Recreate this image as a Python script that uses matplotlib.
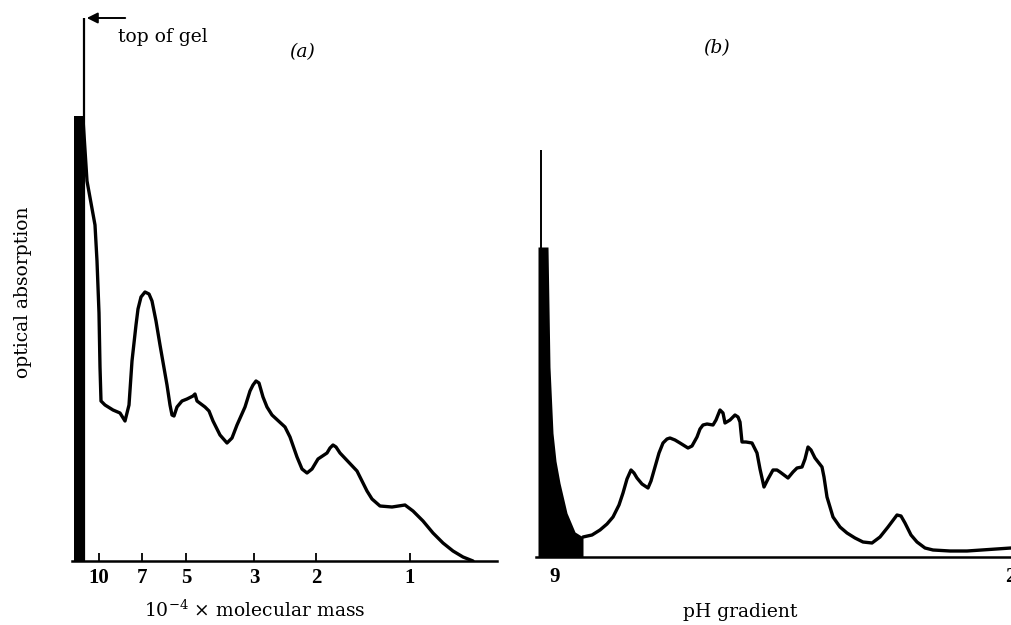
import matplotlib
matplotlib.use("Agg")
import matplotlib.pyplot as plt

# ---------------- data: panel (a) gel scan (arbitrary units) ----------------
a_pos = [11, 15, 19, 23, 25, 27, 28, 29, 33, 41, 48, 53, 57, 60, 64, 66, 69,
         73, 77, 80, 84, 88, 95, 98, 100, 102, 105, 110, 115, 121, 123, 125,
         133, 137, 141, 148, 155, 160, 165, 173, 178, 181, 184, 187, 191, 195,
         200, 213, 218, 225, 230, 235, 240, 246, 255, 258, 261, 264, 268, 285,
         295, 300, 308, 320, 333, 341, 351, 361, 371, 381, 391, 401]
a_abs = [442, 380, 358, 336, 300, 248, 194, 160, 156, 151, 148, 140, 156, 200,
         236, 252, 264, 269, 267, 260, 240, 216, 176, 156, 146, 145, 154, 160,
         162, 165, 167, 160, 154, 150, 140, 126, 118, 123, 136, 154, 170, 176,
         180, 178, 164, 154, 146, 134, 124, 104, 92, 88, 92, 102, 108, 113, 116,
         114, 108, 90, 70, 62, 55, 54, 56, 50, 40, 28, 18, 10, 4, 0]
a_bar_pos = 7
a_bar_height = 445
a_gel_top = 12
a_tick_pos = [27, 70, 114, 182, 244, 338]
a_tick_labels = ["10", "7", "5", "3", "2", "1"]

# ---------------- data: panel (b) pH gradient scan ----------------
b_fill_pos = [2, 12, 13, 14, 17, 20, 24, 31, 39, 47]
b_fill_abs = [310, 310, 250, 190, 124, 96, 74, 44, 25, 20]
b_pos = [47, 56, 64, 71, 77, 83, 87, 91, 95, 98, 101, 106, 112, 115, 119, 123,
         127, 131, 134, 139, 144, 152, 156, 161, 164, 167, 171, 177, 180, 184,
         187, 189, 194, 199, 202, 204, 206, 210, 216, 221, 224, 228, 232, 237,
         241, 244, 252, 257, 261, 266, 269, 272, 275, 279, 286, 288, 291, 297,
         304, 311, 319, 327, 336, 344, 352, 361, 365, 369, 375, 381, 389, 397,
         414, 431, 475]
b_abs = [20, 22, 27, 33, 40, 52, 64, 78, 87, 84, 79, 73, 69, 76, 90, 104, 114,
         118, 119, 117, 114, 109, 111, 120, 128, 132, 133, 132, 137, 147, 144,
         134, 137, 142, 140, 135, 115, 115, 114, 104, 88, 70, 78, 87, 87, 85,
         79, 85, 89, 90, 98, 110, 107, 99, 90, 80, 60, 40, 30, 24, 19, 15, 14,
         20, 30, 42, 41, 34, 22, 15, 9, 7, 6, 6, 9]
b_line_pos = 5
b_line_top = 407
b_tick_pos = [19, 474]
b_tick_labels = ["9", "2"]

plt.rcParams["font.family"] = ["DejaVu Serif"]
plt.rcParams["mathtext.fontset"] = "dejavuserif"

W, H = 1011, 625
fig = plt.figure(figsize=(W / 100, H / 100), dpi=100)

# panel (a): pixel box x 72..497, baseline y 561
axa = fig.add_axes([72 / W, (H - 561) / H, 425 / W, 551 / H])
axa.set_xlim(0, 425)
axa.set_ylim(0, 551)
# panel (b): pixel box x 536..1011, baseline y 557
axb = fig.add_axes([536 / W, (H - 557) / H, 475 / W, 547 / H])
axb.set_xlim(0, 475)
axb.set_ylim(0, 547)

for ax in (axa, axb):
    for s in ("top", "right", "left"):
        ax.spines[s].set_visible(False)
    ax.spines["bottom"].set_linewidth(1.8)
    ax.set_yticks([])
    ax.patch.set_alpha(0)

tick_font = dict(family="Liberation Serif", size=15, weight="bold")
lab_size = 13.5

# ---- panel (a) ----
axa.bar([a_bar_pos], [a_bar_height], width=10, color="black", zorder=2)
axa.plot(a_pos, a_abs, color="black", lw=2.4, solid_joinstyle="round",
         solid_capstyle="round", zorder=3)
axa.vlines(a_gel_top, 0, 543, color="black", lw=1.6, zorder=3)
axa.annotate("", xy=(a_gel_top, 543), xytext=(56, 543),
             arrowprops=dict(arrowstyle="-|>", color="black", lw=1.4,
                             mutation_scale=16))
axa.text(91, 524, "top of gel", fontsize=lab_size, ha="center", va="center")
axa.text(230, 509, "(a)", fontsize=lab_size, ha="center", va="center",
         style="italic")
axa.set_xticks(a_tick_pos)
axa.set_xticklabels(a_tick_labels, fontdict=tick_font)
axa.tick_params(axis="x", direction="in", length=6, width=1.3, pad=5)
axa.set_xlabel(r"$10^{-4}$ × molecular mass", fontsize=lab_size)
axa.xaxis.set_label_coords(183 / 425, -39 / 551)
axa.set_ylabel("optical absorption", fontsize=lab_size)
axa.yaxis.set_label_coords(-40 / 425, 269 / 551)

# ---- panel (b) ----
axb.fill_between(b_fill_pos, 0, b_fill_abs, color="black", lw=0, zorder=2)
axb.plot(b_pos, b_abs, color="black", lw=2.4, solid_joinstyle="round",
         solid_capstyle="round", zorder=3)
axb.vlines(b_line_pos, 0, b_line_top, color="black", lw=1.4, zorder=3)
axb.text(181, 509, "(b)", fontsize=lab_size, ha="center", va="center",
         style="italic")
axb.set_xticks(b_tick_pos)
axb.set_xticklabels(b_tick_labels, fontdict=tick_font)
axb.tick_params(axis="x", length=0, pad=7)
axb.set_xlabel("pH gradient", fontsize=lab_size)
axb.xaxis.set_label_coords(204 / 475, -46 / 547)

fig.savefig("out.png", dpi=100)
